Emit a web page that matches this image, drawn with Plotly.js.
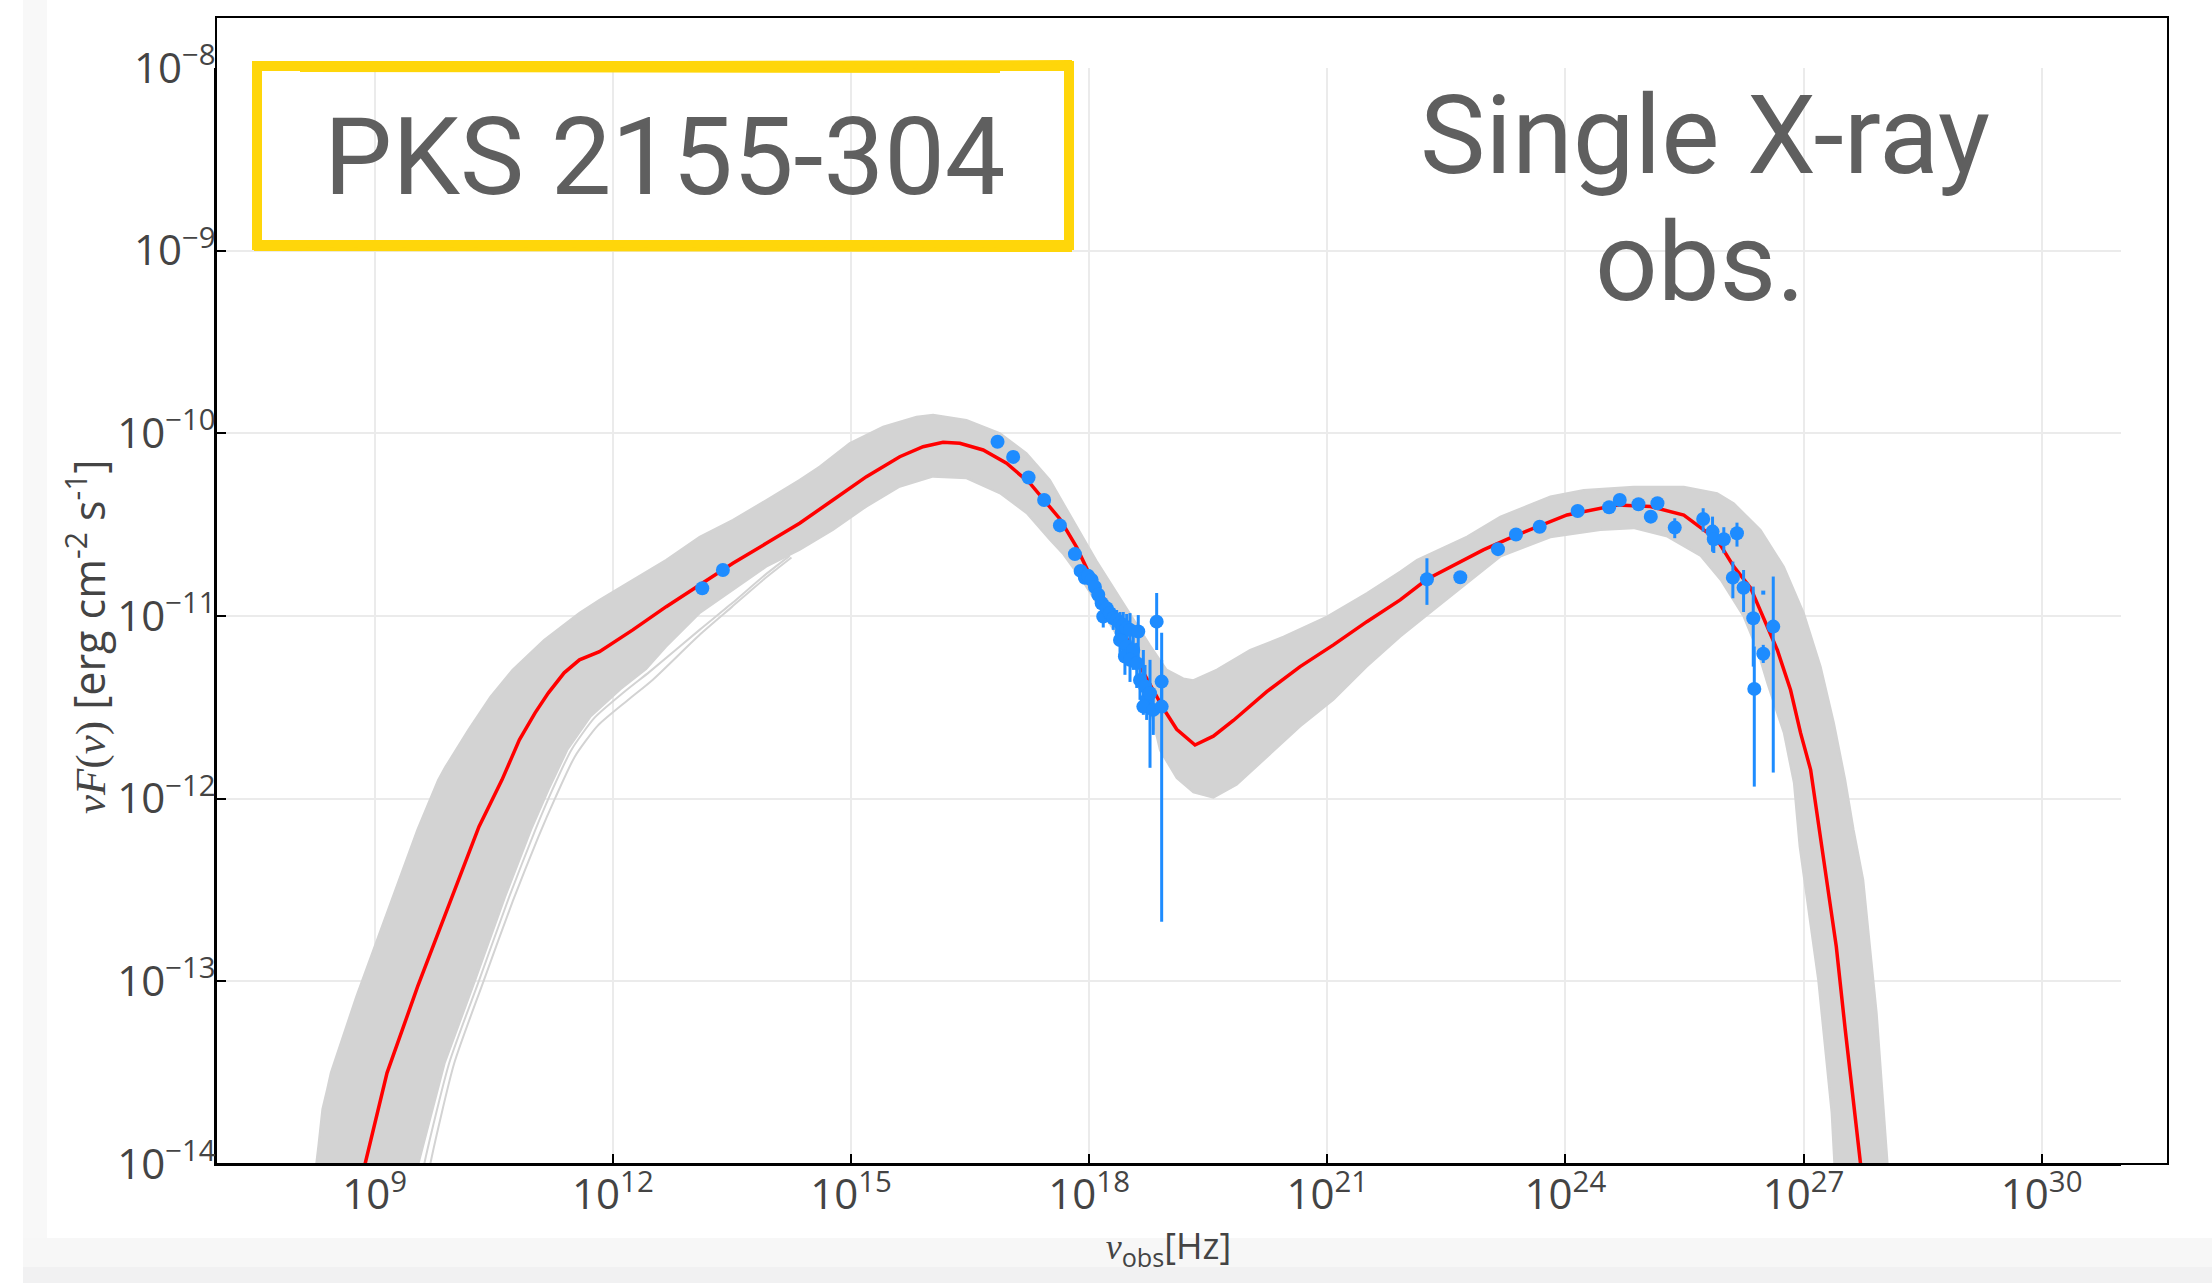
<!DOCTYPE html>
<html>
<head>
<meta charset="utf-8">
<script src="https://cdn.plot.ly/plotly-3.0.1.min.js"></script>
<style>
  html, body { margin: 0; padding: 0; background: #ffffff; }
  #sed { width: 2212px; height: 1283px; }
</style>
</head>
<body>
<div id="sed"></div>
<script>
// Spectral energy distribution of PKS 2155-304.
// All frequencies and fluxes are stored as log10 values (Hz, erg cm^-2 s^-1).

// Axis ticks
const xTickExp = [9, 12, 15, 18, 21, 24, 27, 30];
const xTickLabels = ['10<sup>9</sup>', '10<sup>12</sup>', '10<sup>15</sup>', '10<sup>18</sup>',
                     '10<sup>21</sup>', '10<sup>24</sup>', '10<sup>27</sup>', '10<sup>30</sup>'];
const yTickExp = [-14, -13, -12, -11, -10, -9, -8];
const yTickLabels = ['10<sup>−14</sup>', '10<sup>−13</sup>', '10<sup>−12</sup>', '10<sup>−11</sup>',
                     '10<sup>−10</sup>', '10<sup>−9</sup>', '10<sup>−8</sup>'];

// Best-fit model (red)
const fitLogNu = [8.60, 8.878, 9.155, 9.541, 9.927, 10.313, 10.603, 10.822, 11.020, 11.188, 11.386,
  11.579, 11.831, 12.251, 12.672, 13.092, 13.512, 13.933, 14.353, 14.773, 15.194, 15.614, 15.908,
  16.160, 16.371, 16.665, 16.960, 17.254, 17.506, 17.632, 17.842, 18.010, 18.221, 18.430, 18.641,
  18.808, 18.934, 19.103, 19.334, 19.565, 19.817, 20.238, 20.658, 21.078, 21.499, 21.919, 22.256,
  22.966, 23.391, 24.021, 24.652, 25.072, 25.492, 25.913, 26.122, 26.333, 26.501, 26.670, 26.837,
  26.963, 27.090, 27.237, 27.413, 27.526, 27.719, 27.85];
const fitLogFlux = [-14.50, -14.0, -13.501, -13.028, -12.591, -12.153, -11.897, -11.678, -11.530,
  -11.421, -11.311, -11.240, -11.195, -11.076, -10.949, -10.830, -10.711, -10.602, -10.492, -10.365,
  -10.237, -10.128, -10.073, -10.049, -10.054, -10.091, -10.164, -10.273, -10.401, -10.469, -10.623,
  -10.776, -10.929, -11.083, -11.275, -11.409, -11.505, -11.620, -11.706, -11.658, -11.572, -11.414,
  -11.277, -11.158, -11.031, -10.912, -10.799, -10.638, -10.556, -10.447, -10.392, -10.401, -10.447,
  -10.583, -10.730, -10.846, -11.021, -11.186, -11.405, -11.640, -11.842, -12.280, -12.809, -13.265,
  -14.0, -14.50];

// Envelope of the model realisations (grey band): upper and lower edges
const bandUpLogNu = [8.25, 8.262, 8.29, 8.34, 8.40, 8.446, 8.767, 9.155, 9.536, 9.798, 9.889, 10.179,
  10.456, 10.734, 11.132, 11.579, 11.831, 12.251, 12.672, 13.092, 13.512, 13.933, 14.353, 14.605,
  14.984, 15.404, 15.825, 16.034, 16.455, 16.875, 17.212, 17.506, 17.842, 18.095, 18.430, 18.767,
  18.977, 19.187, 19.313, 19.608, 20.028, 20.448, 20.995, 21.499, 21.919, 22.130, 22.760, 23.180,
  23.811, 24.231, 24.861, 25.492, 25.913, 26.122, 26.459, 26.753, 27.005, 27.216, 27.384, 27.526,
  27.632, 27.753, 27.922, 28.061, 28.11];
const bandUpLogFlux = [-14.3, -14.0, -13.90, -13.70, -13.59, -13.501, -13.083, -12.625, -12.171,
  -11.897, -11.826, -11.623, -11.443, -11.295, -11.131, -10.983, -10.912, -10.802, -10.693, -10.567,
  -10.474, -10.365, -10.255, -10.182, -10.054, -9.963, -9.909, -9.899, -9.927, -9.999, -10.109,
  -10.255, -10.507, -10.699, -10.929, -11.160, -11.294, -11.342, -11.351, -11.294, -11.186, -11.113,
  -11.003, -10.875, -10.757, -10.693, -10.565, -10.456, -10.346, -10.310, -10.292, -10.292, -10.328,
  -10.383, -10.529, -10.730, -10.985, -11.277, -11.587, -11.897, -12.171, -12.444, -13.172, -14.0,
  -14.3];
const bandLowLogNu = [9.36, 9.55, 9.88, 10.26, 10.64, 10.97, 11.19, 11.43, 11.72, 12.10, 12.42,
  12.672, 13.092, 13.512, 13.933, 14.353, 14.773, 15.194, 15.614, 16.034, 16.455, 16.875, 17.212,
  17.506, 17.673, 17.926, 18.178, 18.430, 18.682, 18.893, 19.103, 19.313, 19.565, 19.860, 20.238,
  20.658, 21.078, 21.499, 21.919, 22.339, 23.180, 23.811, 24.441, 24.858, 25.283, 25.703, 25.955,
  26.245, 26.418, 26.544, 26.753, 26.879, 26.951, 27.185, 27.354, 27.388, 27.425];
const bandLowLogFlux = [-14.3, -14.0, -13.45, -13.00, -12.54, -12.17, -11.95, -11.73, -11.55,
  -11.40, -11.29, -11.167, -10.985, -10.857, -10.730, -10.638, -10.529, -10.401, -10.292, -10.237,
  -10.246, -10.328, -10.437, -10.583, -10.661, -10.814, -10.987, -11.160, -11.351, -11.735, -11.888,
  -11.965, -11.994, -11.924, -11.770, -11.605, -11.459, -11.277, -11.113, -10.967, -10.675, -10.569,
  -10.529, -10.519, -10.565, -10.671, -10.802, -11.003, -11.186, -11.368, -11.642, -11.915, -12.262,
  -12.992, -13.720, -14.0, -14.3];

// Two realisations that run just below the band on the synchrotron rise
const strayALogNu = [9.55, 9.624, 9.939, 10.317, 10.695, 11.023, 11.237, 11.477, 11.767, 12.145,
  12.461, 13.092, 13.508, 13.886, 14.227];
const strayALogFlux = [-14.2, -14.0, -13.446, -12.992, -12.536, -12.171, -11.952, -11.733, -11.558,
  -11.415, -11.306, -11.076, -10.928, -10.786, -10.671];
const strayBLogNu = [9.63, 9.70, 10.00, 10.37, 10.74, 11.06, 11.28, 11.52, 11.81, 12.19, 12.50,
  13.10, 13.50, 13.90, 14.25];
const strayBLogFlux = [-14.2, -14.0, -13.45, -13.00, -12.56, -12.21, -11.99, -11.77, -11.60, -11.46,
  -11.35, -11.10, -10.95, -10.80, -10.68];

// Observed fluxes with upper / lower bounds of the error bars
const obsLogNu = [13.126, 13.386,
  16.846, 17.043, 17.237, 17.433, 17.632, 17.821, 17.893, 17.947,
  17.985, 18.032, 18.073, 18.115, 18.158, 18.178, 18.221, 18.262, 18.304, 18.347, 18.389, 18.410,
  18.389, 18.430, 18.473, 18.473, 18.451, 18.515, 18.556, 18.515, 18.600, 18.619, 18.641, 18.704,
  18.725, 18.683, 18.767, 18.808, 18.851, 18.914, 18.914,
  22.256, 22.676, 23.151, 23.378, 23.676, 24.155, 24.551, 24.685, 24.921, 25.076, 25.160, 25.378,
  25.736, 25.854, 25.870, 25.996, 26.162, 26.110, 26.245, 26.367, 26.493, 26.380, 26.619];
const obsLogFlux = [-10.848, -10.748,
  -10.046, -10.129, -10.242, -10.365, -10.504, -10.661, -10.753, -10.791,
  -10.780, -10.802, -10.841, -10.884, -10.930, -11.003, -10.957, -10.985, -11.012, -11.021, -11.039,
  -11.094, -11.131, -11.049, -11.067, -11.167, -11.222, -11.076, -11.186, -11.240, -11.258, -11.085,
  -11.350, -11.386, -11.459, -11.496, -11.423, -11.514, -11.031, -11.359, -11.496,
  -10.799, -10.788, -10.634, -10.554, -10.511, -10.425, -10.405, -10.365, -10.388, -10.456, -10.383,
  -10.516, -10.469, -10.538, -10.580, -10.580, -10.547, -10.790, -10.845, -11.012, -11.207, -11.399,
  -11.058];
const obsLogFluxHi = [-10.848, -10.748,
  -10.046, -10.129, -10.242, -10.365, -10.504, -10.661, -10.753, -10.791,
  -10.748, -10.770, -10.802, -10.846, -10.884, -10.945, -10.912, -10.934, -10.956, -10.967, -10.978,
  -11.021, -11.054, -10.978, -10.989, -11.087, -11.131, -10.984, -11.087, -11.131, -11.147, -10.995,
  -11.240, -11.268, -11.350, -11.186, -11.240, -11.405, -10.874, -11.240, -11.092,
  -10.684, -10.788, -10.634, -10.554, -10.511, -10.425, -10.405, -10.365, -10.388, -10.456, -10.383,
  -10.465, -10.410, -10.456, -10.501, -10.514, -10.489, -10.702, -10.748, -10.839, -11.158, -11.167,
  -10.784];
const obsLogFluxLo = [-10.848, -10.748,
  -10.046, -10.129, -10.242, -10.365, -10.504, -10.661, -10.753, -10.791,
  -10.813, -10.835, -10.879, -10.923, -10.978, -11.063, -11.005, -11.038, -11.076, -11.087, -11.109,
  -11.175, -11.218, -11.131, -11.158, -11.251, -11.322, -11.186, -11.295, -11.361, -11.394, -11.278,
  -11.459, -11.525, -11.569, -11.541, -11.831, -11.651, -11.186, -11.487, -12.674,
  -10.939, -10.788, -10.634, -10.554, -10.511, -10.425, -10.405, -10.365, -10.388, -10.456, -10.383,
  -10.574, -10.538, -10.648, -10.655, -10.656, -10.620, -10.903, -10.978, -11.277, -11.257, -11.934,
  -11.857];

// A single point drawn with a tiny marker in the gamma-ray tail
const dotLogNu = [26.493];
const dotLogFlux = [-10.872];

const lin = arr => arr.map(v => Math.pow(10, v));

// Closed outline of the band: upper edge left to right, lower edge back
const bandX = lin(bandUpLogNu.concat(bandLowLogNu.slice().reverse()));
const bandY = lin(bandUpLogFlux.concat(bandLowLogFlux.slice().reverse()));

const obsY = lin(obsLogFlux);
const obsHi = lin(obsLogFluxHi).map((v, i) => v - obsY[i]);
const obsLo = lin(obsLogFluxLo).map((v, i) => obsY[i] - v);

const grey = '#d3d3d3';
const blue = '#1e8cff';

const traces = [
  {
    x: bandX, y: bandY, type: 'scatter', mode: 'lines',
    fill: 'toself', fillcolor: grey,
    line: { color: grey, width: 2 },
    hoverinfo: 'skip'
  },
  {
    x: lin(strayALogNu), y: lin(strayALogFlux), type: 'scatter', mode: 'lines',
    line: { color: grey, width: 2, shape: 'spline', smoothing: 0.6 }, hoverinfo: 'skip'
  },
  {
    x: lin(strayBLogNu), y: lin(strayBLogFlux), type: 'scatter', mode: 'lines',
    line: { color: grey, width: 2, shape: 'spline', smoothing: 0.6 }, hoverinfo: 'skip'
  },
  {
    x: lin(fitLogNu), y: lin(fitLogFlux), type: 'scatter', mode: 'lines',
    line: { color: '#ff0000', width: 3.5 }, name: 'best fit'
  },
  {
    x: lin(obsLogNu), y: obsY, type: 'scatter', mode: 'markers',
    marker: { color: blue, size: 14 },
    error_y: { type: 'data', symmetric: false, array: obsHi, arrayminus: obsLo,
               color: blue, thickness: 3, width: 0 },
    name: 'data'
  },
  {
    x: lin(dotLogNu), y: lin(dotLogFlux), type: 'scatter', mode: 'markers',
    marker: { color: blue, size: 4, symbol: 'square' }, name: 'data'
  }
];

// pixel helpers for the decorations placed in paper coordinates
const PL = 216, PR = 2121, PT = 68, PB = 1164;
const px = v => (v - PL) / (PR - PL);
const py = v => (PB - v) / (PB - PT);

const textGrey = '#5f5f5f';
const yellow = '#ffd60a';
const serifSpan = s => '<span style="font-family:\'Liberation Serif\', serif">' + s + '</span>';

const layout = {
  width: 2212, height: 1283,
  margin: { l: PL, r: 2212 - PR, t: PT, b: 1283 - PB, pad: 0 },
  paper_bgcolor: '#ffffff', plot_bgcolor: '#ffffff',
  showlegend: false,
  font: { family: '"Open Sans", "Noto Sans", sans-serif', color: '#444444' },
  xaxis: {
    type: 'log', range: [7, 31], automargin: false,
    tickmode: 'array', tickvals: lin(xTickExp), ticktext: xTickLabels,
    tickfont: { size: 42, color: '#444444' }, ticklabelstandoff: -7,
    ticks: 'inside', ticklen: 10, tickwidth: 2, tickcolor: '#000000',
    showline: true, linecolor: '#000000', linewidth: 2,
    showgrid: true, gridcolor: '#ebebeb', gridwidth: 2, zeroline: false,
    layer: 'below traces',
    title: {
      text: serifSpan('<i>ν</i>') + '<sub>obs</sub>[Hz]',
      font: { size: 36, color: '#444444' }, standoff: 12
    }
  },
  yaxis: {
    type: 'log', range: [-14, -8], automargin: false,
    tickmode: 'array', tickvals: lin(yTickExp), ticktext: yTickLabels,
    tickfont: { size: 42, color: '#444444' }, ticklabelstandoff: -10,
    ticks: 'inside', ticklen: 10, tickwidth: 2, tickcolor: '#000000',
    showline: true, linecolor: '#000000', linewidth: 2,
    showgrid: true, gridcolor: '#ebebeb', gridwidth: 2, zeroline: false,
    layer: 'below traces'
  },
  shapes: [
    // slide edge strips
    { type: 'rect', xref: 'paper', yref: 'paper', layer: 'below',
      x0: px(23), x1: px(47), y0: py(1283), y1: py(0),
      fillcolor: '#f8f8f8', line: { width: 0 } },
    { type: 'rect', xref: 'paper', yref: 'paper', layer: 'below',
      x0: px(23), x1: px(2212), y0: py(1267), y1: py(1238),
      fillcolor: '#f7f7f7', line: { width: 0 } },
    { type: 'rect', xref: 'paper', yref: 'paper', layer: 'below',
      x0: px(23), x1: px(2212), y0: py(1283), y1: py(1267),
      fillcolor: '#f1f1f2', line: { width: 0 } },
    // outer frame
    { type: 'rect', xref: 'paper', yref: 'paper', layer: 'above',
      x0: px(216), x1: px(2168), y0: py(1164), y1: py(17),
      line: { color: '#000000', width: 2 } },
    // yellow label box, brush-like double stroke
    { type: 'rect', xref: 'paper', yref: 'paper', layer: 'above',
      x0: px(257), x1: px(1069), y0: py(245), y1: py(66),
      line: { color: yellow, width: 10 } },
    { type: 'path', xref: 'paper', yref: 'paper', layer: 'above',
      path: 'M' + px(262) + ',' + py(64) + ' L' + px(1072) + ',' + py(62) +
            ' M' + px(300) + ',' + py(70) + ' L' + px(1000) + ',' + py(71) +
            ' M' + px(254) + ',' + py(249) + ' L' + px(1072) + ',' + py(250),
      line: { color: yellow, width: 4 } }
  ],
  annotations: [
    // y-axis title
    { text: serifSpan('<i>νF</i>(<i>ν</i>)') + ' [erg cm<sup>-2</sup> s<sup>-1</sup>]',
      xref: 'paper', yref: 'paper', x: px(86), y: py(637), textangle: -90,
      xanchor: 'center', yanchor: 'middle', showarrow: false,
      font: { size: 43, color: '#444444' } },
    { text: 'PKS 2155-304', xref: 'paper', yref: 'paper', x: px(665), y: py(157),
      xanchor: 'center', yanchor: 'middle', showarrow: false,
      font: { family: 'Roboto, "Noto Sans", sans-serif', size: 108, color: textGrey } },
    { text: 'Single X-ray', xref: 'paper', yref: 'paper', x: px(1705), y: py(135),
      xanchor: 'center', yanchor: 'middle', showarrow: false,
      font: { family: 'Roboto, "Noto Sans", sans-serif', size: 110, color: textGrey } },
    { text: 'obs.', xref: 'paper', yref: 'paper', x: px(1700), y: py(262),
      xanchor: 'center', yanchor: 'middle', showarrow: false,
      font: { family: 'Roboto, "Noto Sans", sans-serif', size: 110, color: textGrey } }
  ]
};

Plotly.newPlot('sed', traces, layout, { displayModeBar: false, staticPlot: true });
</script>
</body>
</html>
